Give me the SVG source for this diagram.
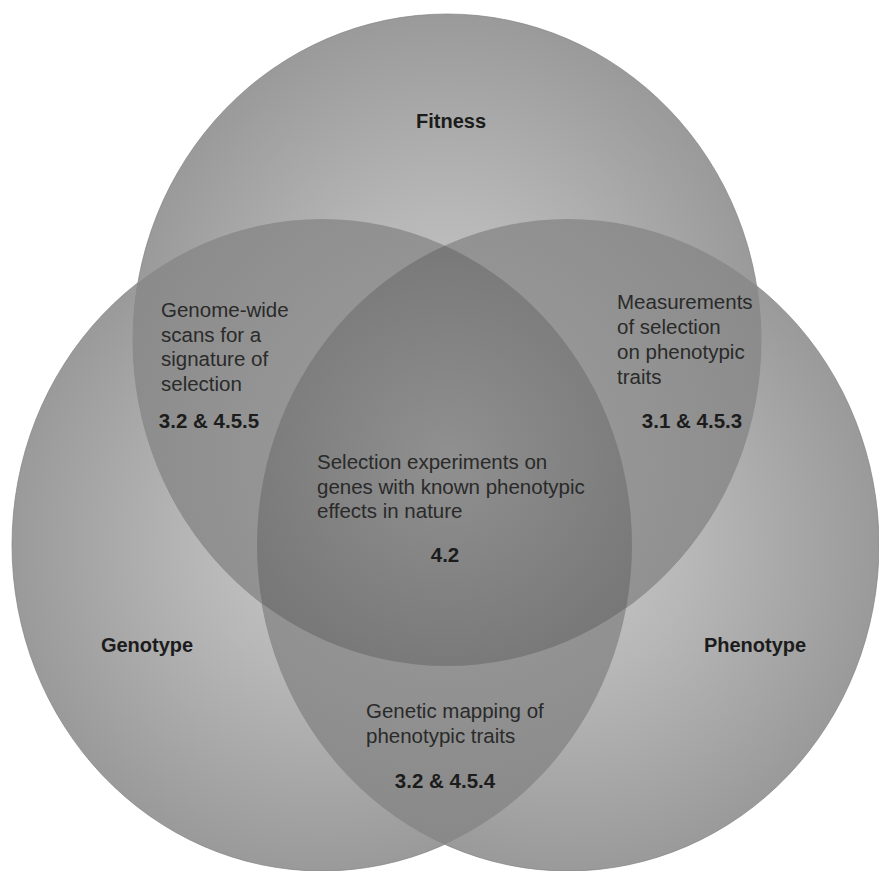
<svg xmlns="http://www.w3.org/2000/svg" width="879" height="871" viewBox="0 0 879 871">
<style>
.lbl{font-family:"Liberation Sans",Arial,sans-serif;font-weight:bold;font-size:20px;fill:#1c1c1c}
.txt{font-family:"Liberation Sans",Arial,sans-serif;font-size:20.5px;fill:#2a2a2a}
.num{font-family:"Liberation Sans",Arial,sans-serif;font-weight:bold;font-size:20.5px;fill:#1c1c1c}
.edge{stroke:#828382;stroke-width:1;stroke-opacity:0.7}
</style>
<defs>
<radialGradient id="gBase">
<stop offset="0" stop-color="#c6c7c6"/>
<stop offset="0.4" stop-color="#b6b7b6"/>
<stop offset="1" stop-color="#999a99"/>
</radialGradient>
<radialGradient id="gLens" gradientUnits="userSpaceOnUse" cx="447" cy="460" r="380">
<stop offset="0" stop-color="#a09fa0"/>
<stop offset="1" stop-color="#888988"/>
</radialGradient>
<radialGradient id="gTri" gradientUnits="userSpaceOnUse" cx="447" cy="460" r="240">
<stop offset="0" stop-color="#8f908f"/>
<stop offset="1" stop-color="#757675"/>
</radialGradient>
<clipPath id="cF"><ellipse cx="447" cy="340" rx="314" ry="326"/></clipPath>
<clipPath id="cG"><ellipse cx="322" cy="545" rx="310" ry="326"/></clipPath>
<clipPath id="cP"><ellipse cx="568" cy="545" rx="311" ry="326"/></clipPath>
</defs>
<rect width="879" height="871" fill="#ffffff"/>

<g id="node-genotype">
<ellipse class="edge" cx="322" cy="545" rx="310" ry="326" fill="url(#gBase)"/>
</g>
<g id="node-phenotype">
<ellipse class="edge" cx="568" cy="545" rx="311" ry="326" fill="url(#gBase)"/>
</g>
<g id="node-fitness">
<ellipse class="edge" cx="447" cy="340" rx="314" ry="326" fill="url(#gBase)"/>
</g>

<g id="overlap-fitness-genotype" clip-path="url(#cF)">
<ellipse cx="322" cy="545" rx="310" ry="326" fill="url(#gLens)"/>
</g>
<g id="overlap-fitness-phenotype" clip-path="url(#cF)">
<ellipse cx="568" cy="545" rx="311" ry="326" fill="url(#gLens)"/>
</g>
<g id="overlap-genotype-phenotype" clip-path="url(#cG)">
<ellipse cx="568" cy="545" rx="311" ry="326" fill="url(#gLens)"/>
</g>
<g id="overlap-all" clip-path="url(#cF)">
<g clip-path="url(#cG)">
<ellipse cx="568" cy="545" rx="311" ry="326" fill="url(#gTri)"/>
</g>
</g>

<g id="labels">
<text class="lbl" x="451" y="128" text-anchor="middle">Fitness</text>
<text class="lbl" x="147" y="652" text-anchor="middle">Genotype</text>
<text class="lbl" x="755" y="652" text-anchor="middle">Phenotype</text>
</g>

<g id="text-fitness-genotype">
<text class="txt" x="161" y="317">Genome-wide</text>
<text class="txt" x="161" y="342">scans for a</text>
<text class="txt" x="161" y="366">signature of</text>
<text class="txt" x="161" y="391">selection</text>
<text class="num" x="209" y="428" text-anchor="middle">3.2 &amp; 4.5.5</text>
</g>

<g id="text-fitness-phenotype">
<text class="txt" x="617" y="309">Measurements</text>
<text class="txt" x="617" y="334">of selection</text>
<text class="txt" x="617" y="359">on phenotypic</text>
<text class="txt" x="617" y="384">traits</text>
<text class="num" x="692" y="428" text-anchor="middle">3.1 &amp; 4.5.3</text>
</g>

<g id="text-all">
<text class="txt" x="317" y="469">Selection experiments on</text>
<text class="txt" x="317" y="494">genes with known phenotypic</text>
<text class="txt" x="317" y="518">effects in nature</text>
<text class="num" x="445" y="562" text-anchor="middle">4.2</text>
</g>

<g id="text-genotype-phenotype">
<text class="txt" x="366" y="718">Genetic mapping of</text>
<text class="txt" x="366" y="743">phenotypic traits</text>
<text class="num" x="445" y="788" text-anchor="middle">3.2 &amp; 4.5.4</text>
</g>
</svg>
